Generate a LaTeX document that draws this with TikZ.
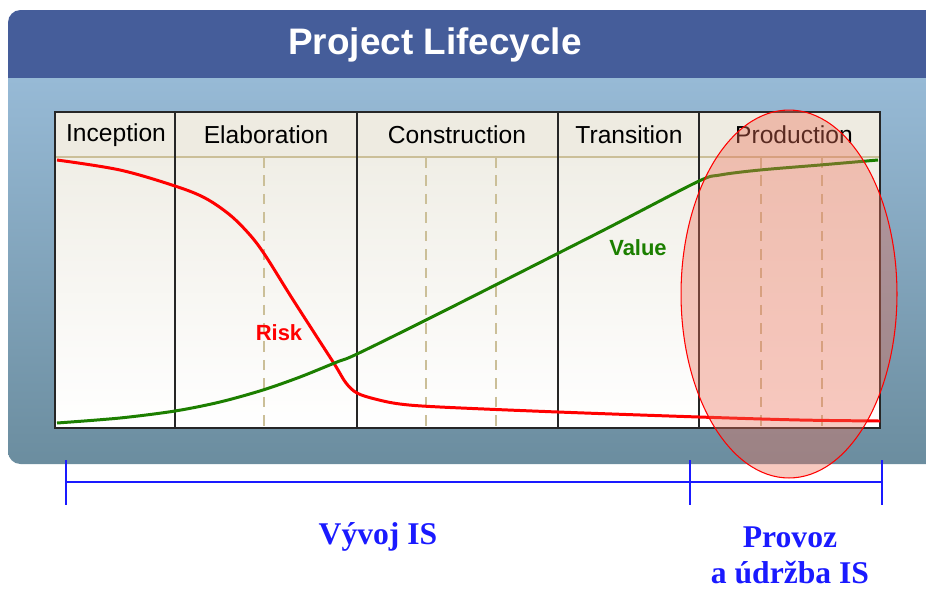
\documentclass[tikz,border=0pt]{standalone}
\usepackage{fontspec}
\setmainfont{Liberation Serif}
\setsansfont{Liberation Sans}
\usepackage{tikz}
\usetikzlibrary{calc, positioning, shapes, backgrounds}
\definecolor{headblue}{HTML}{455D9A}
\definecolor{paneltop}{HTML}{97BAD6}
\definecolor{panelbot}{HTML}{6B8D9F}
\definecolor{cellbeige}{HTML}{EEEBE1}
\definecolor{plottop}{HTML}{F0EEE6}
\definecolor{gridtan}{HTML}{CBBF98}
\definecolor{riskred}{HTML}{FF0000}
\definecolor{valuegreen}{HTML}{1C7F00}
\definecolor{bracketblue}{HTML}{1A1AFF}
\definecolor{spotfill}{HTML}{EC7058}
\tikzset{
    titlenode/.style = {draw=none, fill=none, inner sep=0em, text=white,
      font=\sffamily\bfseries\fontsize{21}{24}\selectfont},
    phasenode/.style = {draw=none, fill=none, rectangle, inner sep=0em,
      font=\sffamily\fontsize{14}{16}\selectfont},
    curvelabel/.style = {draw=none, fill=none, inner sep=0em,
      font=\sffamily\bfseries\fontsize{12.5}{14}\selectfont},
    blocktext/.style = {draw=none, fill=none, inner sep=0em, text=bracketblue, align=center,
      font=\bfseries\fontsize{18}{20.5}\selectfont},
    gridline/.style = {gridtan, line width=0.8pt, dash pattern=on 6pt off 4.5pt},
    sepline/.style = {black!85, line width=0.8pt},
    riskcurve/.style = {riskred, line width=1.7pt},
    valuecurve/.style = {valuegreen, line width=1.7pt},
    bracket/.style = {bracketblue, line width=0.8pt},
    highlight/.style = {draw=red, line width=0.6pt, fill=spotfill, fill opacity=0.38}
}

\begin{document}
\begin{tikzpicture}[x=0.02cm, y=-0.02cm]
    \useasboundingbox (0,0) rectangle (926,589);

    % panel
    \begin{scope}
      \clip[rounded corners=0.25cm] (8,10) rectangle (945,464);
      \fill[headblue] (8,10) rectangle (945,78);
      \shade[top color=paneltop, bottom color=panelbot] (8,78) rectangle (945,464);
    \end{scope}
    \node [titlenode, name=title] at (435,45) {Project Lifecycle};

    % chart
    \fill[cellbeige] (55,112) rectangle (880,157);
    \shade[top color=plottop, bottom color=white] (55,157) rectangle (880,428);
    \draw[gridtan, line width=0.8pt] (55,157) -- (880,157);
    \foreach \x in {264,426,496,761,822}
      \draw[gridline] (\x,157) -- (\x,428);
    \foreach \x in {175,357,558,699}
      \draw[sepline] (\x,112) -- (\x,428);
    \draw[sepline] (55,112) rectangle (880,428);

    \node [phasenode, name=inception] at (116,135) {Inception};
    \node [phasenode, name=elaboration] at (266,135) {Elaboration};
    \node [phasenode, name=construction] at (457,135) {Construction};
    \node [phasenode, name=transition] at (629,135) {Transition};
    \node [phasenode, name=production] at (794,135) {Production};

    \draw[riskcurve] plot[smooth, tension=0.55] coordinates {(57,160) (120,170) (175,186) (205,198)
      (230,215) (250,235) (265,255) (290,295) (315,334) (335,365) (346,383) (357,393) (375,399)
      (400,404) (440,407) (558,412) (699,417) (800,420) (880,421)};
    \draw[valuecurve] plot[smooth, tension=0.5] coordinates {(57,423) (120,418) (175,411) (220,402)
      (263,390) (300,377) (337,362) (357,354) (440,313) (600,232) (697,182) (720,175)
      (760,170) (820,165) (878,160)};
    \node [curvelabel, text=riskred, name=risk] at (279,333) {Risk};
    \node [curvelabel, text=valuegreen, name=value] at (638,248) {Value};

    \draw[highlight] (789,294) ellipse [x radius=2.16cm, y radius=3.68cm];

    % phases of the IS
    \coordinate (bl) at (66,482);
    \coordinate (bm) at (690,482);
    \coordinate (br) at (882,482);
    \draw[bracket] (bl) -- (br);
    \foreach \c in {bl,bm,br}
      \draw[bracket] ($(\c)+(0,-22)$) -- ($(\c)+(0,23)$);
    \node [blocktext, name=dev] at (378,537) {Vývoj IS};
    \node [blocktext, name=ops] at (790,555) {Provoz\\a údržba IS};
\end{tikzpicture}
\end{document}
